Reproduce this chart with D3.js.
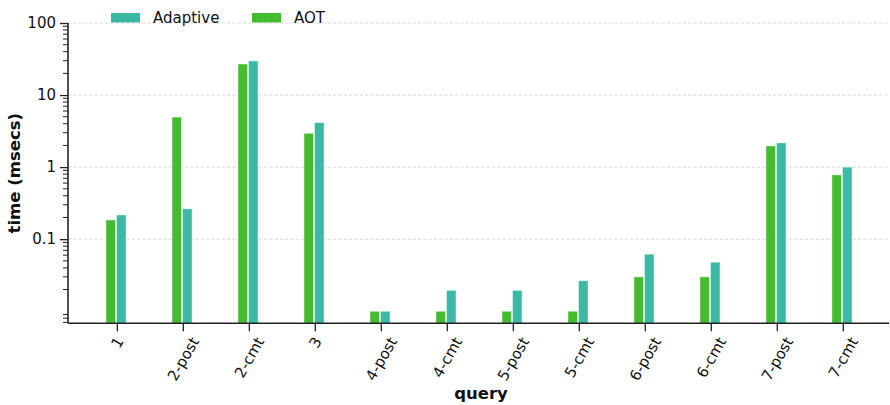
<!DOCTYPE html>
<html>
<head>
<meta charset="utf-8">
<script src="https://cdn.jsdelivr.net/npm/d3@7"></script>
<style>
  html, body { margin: 0; padding: 0; background: #fff; }
  svg text { font-family: "DejaVu Sans", sans-serif; fill: #111; }
</style>
</head>
<body>
<svg id="chart" width="890" height="405"></svg>
<script>
// Query timings, milliseconds (log scale)
const queries = ["1", "2-post", "2-cmt", "3", "4-post", "4-cmt", "5-post", "5-cmt", "6-post", "6-cmt", "7-post", "7-cmt"];
const aotTimes = [0.185, 4.95, 27, 2.95, 0.01, 0.01, 0.01, 0.01, 0.03, 0.03, 1.97, 0.78];
const adaptiveTimes = [0.217, 0.264, 29.8, 4.15, 0.01, 0.0195, 0.0195, 0.0265, 0.062, 0.048, 2.17, 1.0];
const yMajorTicks = [0.1, 1, 10, 100];
const yTickLabels = ["0.1", "1", "10", "100"];
const seriesNames = ["Adaptive", "AOT"];
const seriesColors = { "Adaptive": "#3bb9a4", "AOT": "#45bc30" };

const svg = d3.select("#chart");
const plotLeft = 68, plotRight = 889, plotTop = 23, plotBottom = 323.3;
const tickFont = 15;

const x = d3.scaleLinear().domain([-0.74, 11.7]).range([plotLeft, plotRight]);
const y = d3.scaleLog().domain([0.0068, 100]).range([plotBottom, plotTop]);

// horizontal grid at the labelled decades
svg.append("g").selectAll("line").data(yMajorTicks).join("line")
  .attr("x1", plotLeft).attr("x2", plotRight)
  .attr("y1", d => y(d)).attr("y2", d => y(d))
  .attr("stroke", "#cfcfcf").attr("stroke-width", 0.8)
  .attr("stroke-dasharray", "3.5,1.8");

// bars: AOT left of the tick, Adaptive right of it
const barW = 0.145;
const series = [
  { name: "AOT", values: aotTimes, offset: -0.165 },
  { name: "Adaptive", values: adaptiveTimes, offset: -0.005 }
];
const barsG = svg.append("g");
series.forEach(s => {
  barsG.selectAll(null).data(s.values).join("rect")
    .attr("x", (d, i) => x(i + s.offset))
    .attr("width", (d, i) => x(i + s.offset + barW) - x(i + s.offset))
    .attr("y", d => y(d))
    .attr("height", d => plotBottom - y(d))
    .attr("fill", seriesColors[s.name])
    .attr("stroke", "#ffffff").attr("stroke-opacity", 0.6).attr("stroke-width", 0.8);
});

// y axis: major ticks labelled, minor ticks at 2..9 of each decade
const yAxis = d3.axisLeft(y)
  .tickValues(yMajorTicks)
  .tickFormat((d, i) => yTickLabels[i])
  .tickSize(8).tickPadding(4);
const yG = svg.append("g").attr("transform", `translate(${plotLeft},0)`).call(yAxis);
yG.select(".domain").attr("d", `M0,${plotTop}V${plotBottom}`);
const minor = [];
for (let e = -3; e <= 1; e++) {
  for (let m = 2; m <= 9; m++) {
    const v = m * Math.pow(10, e);
    if (v >= y.domain()[0] && v <= y.domain()[1]) minor.push(v);
  }
}
yG.selectAll(".minor").data(minor).join("line").attr("class", "minor")
  .attr("x1", -5).attr("x2", 0)
  .attr("y1", d => y(d)).attr("y2", d => y(d))
  .attr("stroke", "#222").attr("stroke-width", 1);

// x axis
const xAxis = d3.axisBottom(x)
  .tickValues(d3.range(queries.length))
  .tickFormat(i => queries[i])
  .tickSize(8);
const xG = svg.append("g").attr("transform", `translate(0,${plotBottom})`).call(xAxis);
xG.select(".domain").attr("d", `M${plotLeft},0H${plotRight}`);

[yG, xG].forEach(g => {
  g.select(".domain").attr("stroke", "#222").attr("stroke-width", 1.6);
  g.selectAll(".tick line").attr("stroke", "#222").attr("stroke-width", 1.3);
  g.selectAll("text").attr("font-size", tickFont).attr("fill", "#111")
    .style("font-family", "DejaVu Sans, sans-serif");
});

// rotated category labels, centred under each tick
const ang = 60 * Math.PI / 180;
xG.selectAll(".tick text").each(function () {
  const t = d3.select(this);
  const w = this.getComputedTextLength();
  const h = tickFont * 1.1;
  const H = w * Math.sin(ang) + h * Math.cos(ang);
  t.attr("text-anchor", "middle").attr("dy", "0.35em")
    .attr("y", 0)
    .attr("transform", `translate(0,${11 + H / 2}) rotate(-60)`);
});

// axis titles
svg.append("text").attr("x", 481).attr("y", 399)
  .attr("text-anchor", "middle").attr("font-size", 16.5).attr("font-weight", "bold")
  .text("query");
svg.append("text")
  .attr("transform", `translate(20,${(plotTop + plotBottom) / 2}) rotate(-90)`)
  .attr("text-anchor", "middle").attr("font-size", 16.5).attr("font-weight", "bold")
  .text("time (msecs)");

// legend
const legendX = [111, 252];
const legend = svg.append("g").selectAll("g").data(seriesNames).join("g")
  .attr("transform", (d, i) => `translate(${legendX[i]},0)`);
legend.append("rect").attr("x", 0).attr("y", 13).attr("width", 29).attr("height", 9.5)
  .attr("fill", d => seriesColors[d]);
legend.append("text").attr("x", 42).attr("y", 22.5).attr("font-size", 15).text(d => d);
</script>
</body>
</html>
